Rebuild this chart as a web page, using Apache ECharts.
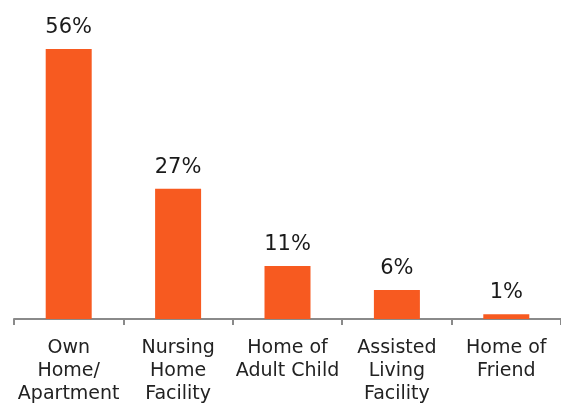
<!DOCTYPE html>
<html><head><meta charset="utf-8">
<script src="https://cdn.jsdelivr.net/npm/echarts@6/dist/echarts.min.js"></script>
<style>html,body{margin:0;padding:0;background:#fff}#c{width:561px;height:407px}</style>
</head><body><div id="c"></div>
<script>
const categories = ["Own\nHome/\nApartment", "Nursing\nHome\nFacility", "Home of\nAdult Child", "Assisted\nLiving\nFacility", "Home of\nFriend"];
const values = [56, 27, 11, 6, 1];
const chart = echarts.init(document.getElementById('c'), null, {renderer:'canvas'});
chart.setOption({
  animation:false,
  grid:{left:14, right:0, top:29.7, bottom:88, containLabel:false},
  xAxis:{type:'category', data:categories,
    axisLine:{lineStyle:{color:'#8a8a8a', width:2}},
    axisTick:{show:true, length:6, lineStyle:{color:'#8a8a8a', width:2}},
    axisLabel:{interval:0, margin:18, color:'#222', fontSize:19, lineHeight:23, fontFamily:'DejaVu Sans'}
  },
  yAxis:{type:'value', min:0, max:60, show:false, splitLine:{show:false}},
  series:[{type:'bar', data:values, barWidth:46,
    itemStyle:{color:'#F75A20'},
    label:{show:true, position:'top', distance:11, formatter:'{c}%', color:'#1a1a1a', fontSize:21, fontFamily:'DejaVu Sans'}
  }]
});
</script></body></html>
